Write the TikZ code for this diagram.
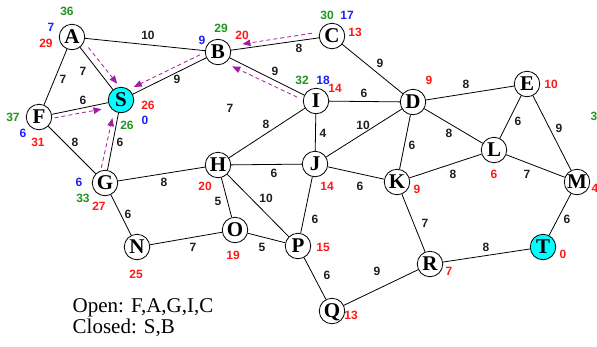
\documentclass[tikz,border=0pt]{standalone}
\usepackage{fontspec}
\setmainfont{Liberation Serif}
\newfontfamily\numfont{Liberation Sans}
\usetikzlibrary{calc,arrows.meta}
\definecolor{wgray}{RGB}{30,30,30}
\definecolor{wred}{RGB}{255,25,25}
\definecolor{wgreen}{RGB}{30,150,30}
\definecolor{wblue}{RGB}{30,30,255}
\definecolor{wpurple}{RGB}{160,30,160}
\definecolor{wcyan}{RGB}{0,255,255}
\begin{document}
\begin{tikzpicture}[x=1pt,y=-1pt,
  vertex/.style={circle,draw,line width=0.8pt,fill=white,minimum size=25.5pt,inner sep=0pt,
    font=\fontsize{21}{21}\selectfont\bfseries,text height=13.9pt,text depth=0pt},
  goal/.style={vertex,fill=wcyan},
  link/.style={draw=black,line width=0.8pt},
  wt/.style={font=\numfont\bfseries\fontsize{12}{12}\selectfont,text=wgray,inner sep=0pt},
  rd/.style={wt,text=wred},
  gn/.style={wt,text=wgreen},
  bl/.style={wt,text=wblue},
  parent/.style={draw=wpurple,line width=0.8pt,dash pattern=on 4pt off 3pt,
    -{Triangle[length=8pt,width=6.5pt]}},
  legend/.style={font=\fontsize{21}{21}\selectfont,inner sep=0pt}]
\useasboundingbox (0,0) rectangle (597,346);
\clip (0,0) rectangle (597,346);

% vertices
\node[vertex] (A) at (72,37) {A};
\node[vertex] (B) at (218,52) {B};
\node[vertex] (C) at (332,36) {C};
\node[goal]   (S) at (121,100) {S};
\node[vertex] (F) at (39,117) {F};
\node[vertex] (I) at (316,101) {I};
\node[vertex] (D) at (413,102) {D};
\node[vertex] (E) at (527,84) {E};
\node[vertex] (L) at (494,150) {L};
\node[vertex] (M) at (577,182) {M};
\node[vertex] (K) at (397,182) {K};
\node[vertex] (J) at (315,164) {J};
\node[vertex] (H) at (218,165) {H};
\node[vertex] (G) at (105,183) {G};
\node[vertex] (N) at (137,247) {N};
\node[vertex] (O) at (235,230) {O};
\node[vertex] (P) at (298,246) {P};
\node[vertex] (Q) at (332,311) {Q};
\node[vertex] (R) at (430,264) {R};
\node[goal]   (T) at (543,247) {T};

% edges
\foreach \u/\v in {A/B,A/S,A/F,F/S,F/G,S/B,S/G,B/C,B/I,C/D,I/D,I/J,I/H,D/J,D/E,D/L,D/K,
  E/L,E/M,L/M,L/K,G/H,G/N,H/J,H/O,H/P,J/K,J/P,N/O,O/P,P/Q,Q/R,K/R,R/T,M/T}
  \draw[link] (\u) -- (\v);

% edge weights
\node[wt] (wAB) at (148,35) {10};
\node[wt] (wAF) at (63,79) {7};
\node[wt] (wAS) at (83,71) {7};
\node[wt] (wBS) at (177,79) {9};
\node[wt] (wFS) at (83,100) {6};
\node[wt] (wBC) at (299,48) {8};
\node[wt] (wCD) at (380,63) {9};
\node[wt] (wBI) at (275,71) {9};
\node[wt] (wID) at (364,93) {6};
\node[wt] (wfree) at (230,108) {7};
\node[wt] (wHI) at (266,124) {8};
\node[wt] (wDE) at (466,84) {8};
\node[wt] (wEL) at (518,121) {6};
\node[wt] (wEM) at (559,128) {9};
\node[wt] (wDL) at (449,133) {8};
\node[wt] (wDK) at (412,145) {6};
\node[wt] (wKL) at (453,174) {8};
\node[wt] (wLM) at (527,174) {7};
\node[wt] (wIJ) at (323,133) {4};
\node[wt] (wJD) at (363,125) {10};
\node[wt] (wFG) at (75,142) {8};
\node[wt] (wSG) at (120,142) {6};
\node[wt] (wGH) at (164,182) {8};
\node[wt] (wHJ) at (274,173) {6};
\node[wt] (wJK) at (360,186) {6};
\node[wt] (wGN) at (128,214) {6};
\node[wt] (wHO) at (218,201) {5};
\node[wt] (wHP) at (266,198) {10};
\node[wt] (wJP) at (315,219) {6};
\node[wt] (wKR) at (425,223) {7};
\node[wt] (wNO) at (193,247) {7};
\node[wt] (wOP) at (262,247) {5};
\node[wt] (wPQ) at (327,275) {6};
\node[wt] (wQR) at (377,271) {9};
\node[wt] (wRT) at (486,247) {8};
\node[wt] (wMT) at (567,219) {6};

% search values beside the vertices
\node[gn] (gA) at (67,11) {36};
\node[bl] (bA) at (51,27) {7};
\node[rd] (rA) at (46,43) {29};
\node[bl] (bB) at (202,40) {9};
\node[gn] (gB) at (221,28) {29};
\node[rd] (rB) at (242,35) {20};
\node[gn] (gC) at (327,15) {30};
\node[bl] (bC) at (347,15) {17};
\node[rd] (rC) at (355,32) {13};
\node[rd] (rS) at (148,105) {26};
\node[gn] (gS) at (127,125) {26};
\node[bl] (bS) at (145,120) {0};
\node[gn] (gF) at (13,117) {37};
\node[bl] (bF) at (23,133) {6};
\node[rd] (rF) at (38,142) {31};
\node[gn] (gI) at (302,80) {32};
\node[bl] (bI) at (323,80) {18};
\node[rd] (rI) at (335,88) {14};
\node[rd] (rD) at (429,80) {9};
\node[rd] (rE) at (551,84) {10};
\node[rd] (rL) at (494,174) {6};
\node[gn,anchor=west] (gM) at (590.5,116) {3};
\node[rd,anchor=west] (rM) at (591.5,188) {4};
\node[rd] (rK) at (417,189) {9};
\node[rd] (rJ) at (327,186) {14};
\node[rd] (rH) at (205,186) {20};
\node[bl] (bG) at (79,182) {6};
\node[gn] (gG) at (83,198) {33};
\node[rd] (rG) at (99,206) {27};
\node[rd] (rN) at (136,274) {25};
\node[rd] (rO) at (233,255) {19};
\node[rd] (rP) at (323,247) {15};
\node[rd] (rQ) at (351,315) {13};
\node[rd] (rR) at (449,271) {7};
\node[rd] (rT) at (563,254) {0};

% parent pointers
\draw[parent] ($(A)!0.23!(S)!6.5pt!90:(S)$) -- ($(A)!0.81!(S)!7pt!90:(S)$);
\draw[parent] ($(B)!0.16!(S)!5.5pt!-90:(S)$) -- ($(B)!0.84!(S)!6pt!-90:(S)$);
\draw[parent] ($(F)!0.18!(S)!4pt!-90:(S)$) -- ($(F)!0.75!(S)!5pt!-90:(S)$);
\draw[parent] ($(G)!0.17!(S)!6.5pt!90:(S)$) -- ($(G)!0.77!(S)!5pt!90:(S)$);
\draw[parent] ($(C)!0.17!(B)!5.5pt!-90:(B)$) -- ($(C)!0.78!(B)!4.5pt!-90:(B)$);
\draw[parent] ($(I)!0.17!(B)!5pt!90:(B)$) -- ($(I)!0.825!(B)!6.5pt!90:(B)$);

% open / closed lists
\node[legend,anchor=base west] (open) at (72.5,312) {Open: F,A,G,I,C};
\node[legend,anchor=base west] (closed) at (72.5,333) {Closed: S,B};
\end{tikzpicture}
\end{document}
